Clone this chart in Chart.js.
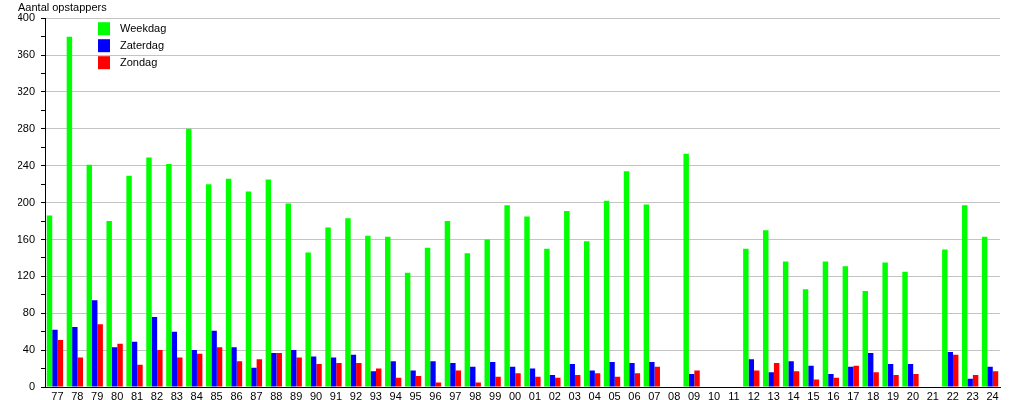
<!DOCTYPE html>
<html>
<head>
<meta charset="utf-8">
<script src="https://cdn.jsdelivr.net/npm/chart.js@4/dist/chart.umd.min.js"></script>
<style>
html,body{margin:0;padding:0;background:#fff;}
canvas{display:block;}
</style>
</head>
<body>
<canvas id="c" width="1015" height="400"></canvas>
<script>
const categories = ['77','78','79','80','81','82','83','84','85','86','87','88','89','90','91','92','93','94','95','96','97','98','99',
  '00','01','02','03','04','05','06','07','08','09','10','11','12','13','14','15','16','17','18','19','20','21','22','23','24'];
const weekdag = [186,380,241,180,229,249,242,280,220,226,212,225,199,146,173,183,164,163,124,151,180,145,160,
  197,185,150,191,158,202,234,198,null,253,null,null,150,170,136,106,136,131,104,135,125,null,149,197,163];
const zaterdag = [62,65,94,43,49,76,60,40,61,43,21,37,40,33,32,35,17,28,18,28,26,22,27,
  22,20,13,25,18,27,26,27,null,14,null,null,30,16,28,23,14,22,37,25,25,null,38,9,22];
const zondag = [51,32,68,47,24,40,32,36,43,28,30,37,32,25,26,26,20,10,12,5,18,5,11,
  15,11,10,13,15,11,15,22,null,18,null,null,18,26,17,8,10,23,16,13,14,null,35,13,17];
const seriesNames = ['Weekdag','Zaterdag','Zondag'];
const seriesColors = ['#00ff00','#0000ff','#ff0000'];
const yTitle = 'Aantal opstappers';

const FONT = "'Liberation Sans', Arial, Helvetica, sans-serif";
Chart.defaults.font.family = FONT;
Chart.defaults.font.size = 11;
Chart.defaults.color = '#000';

const insideLegend = {
  id: 'insideLegend',
  afterDatasetsDraw(chart) {
    const {ctx, chartArea} = chart;
    ctx.save();
    ctx.font = '11px ' + FONT;
    ctx.textBaseline = 'middle';
    ctx.textAlign = 'left';
    chart.data.datasets.forEach((ds, i) => {
      const x = chartArea.left + 53;
      const y = chartArea.top + 4 + i * 17;
      ctx.fillStyle = ds.backgroundColor;
      ctx.fillRect(x, y, 12, 13);
      ctx.fillStyle = '#000';
      ctx.fillText(ds.label, x + 22, y + 7);
    });
    ctx.restore();
  }
};

const seriesData = [weekdag, zaterdag, zondag];
new Chart(document.getElementById('c'), {
  type: 'bar',
  data: {
    labels: categories,
    datasets: seriesData.map((d, i) => ({
      label: seriesNames[i],
      data: d,
      backgroundColor: seriesColors[i],
      borderWidth: 0,
      barPercentage: 1.0,
      categoryPercentage: 0.82
    }))
  },
  options: {
    responsive: false,
    animation: false,
    layout: { padding: { left: 18, right: 15, top: 0, bottom: 0 } },
    plugins: {
      legend: { display: false },
      tooltip: { enabled: false },
      title: {
        display: true,
        text: yTitle,
        align: 'start',
        color: '#000',
        font: { size: 11, weight: 'normal', family: FONT },
        padding: { top: 1, bottom: 4 }
      }
    },
    scales: {
      x: {
        grid: { display: false, drawTicks: false, tickLength: 0 },
        border: { display: true, color: '#000', width: 1 },
        ticks: { padding: 3, labelOffset: 2.5, maxRotation: 0, autoSkip: false, font: { size: 11 } },
        afterFit(scale) { scale.height = 13; }
      },
      y: {
        min: 0,
        max: 400,
        border: { display: true, color: '#000', width: 1 },
        grid: {
          color: (c) => (c.tick && c.tick.value % 40 === 0) ? '#c4c4c4' : 'rgba(0,0,0,0)',
          tickColor: '#000',
          tickLength: 4,
          drawTicks: true
        },
        ticks: {
          stepSize: 20,
          padding: 6,
          autoSkip: false,
          callback: (v) => (v % 40 === 0 ? String(v) : ''),
          font: { size: 11 }
        },
        afterFit(scale) { scale.width = 27; }
      }
    }
  },
  plugins: [insideLegend]
});
</script>
</body>
</html>
